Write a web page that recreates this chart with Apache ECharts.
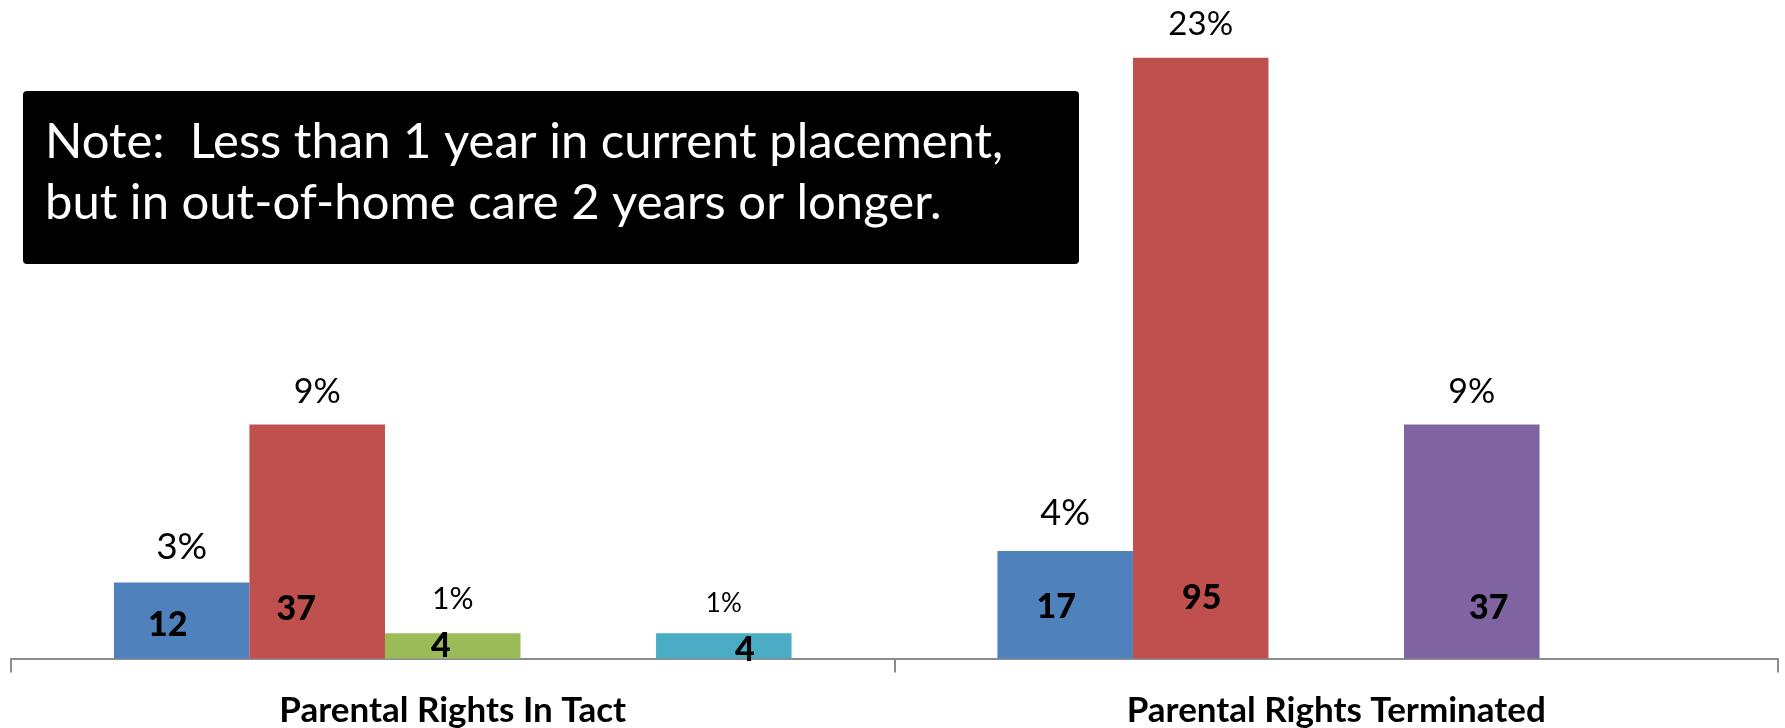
<!DOCTYPE html>
<html>
<head>
<meta charset="utf-8">
<script src="https://cdn.jsdelivr.net/npm/echarts@6/dist/echarts.min.js"></script>
<style>
  html, body { margin: 0; padding: 0; background: #fff; }
  #chart { width: 1785px; height: 728px; }
</style>
</head>
<body>
<div id="chart"></div>
<script>
// ---- Data ----
const categories = ['Parental Rights In Tact', 'Parental Rights Terminated'];
const seriesNames = ['Series 1', 'Series 2', 'Series 3', 'Series 4', 'Series 5'];
const counts1 = [12, 17];
const counts2 = [37, 95];
const counts3 = [4, null];
const counts4 = [null, 37];
const counts5 = [4, null];
const pct1 = ['3%', '4%'];
const pct2 = ['9%', '23%'];
const pct3 = ['1%', null];
const pct4 = [null, '9%'];
const pct5 = ['1%', null];
const noteLines = ['Note:  Less than 1 year in current placement,', 'but in out-of-home care 2 years or longer.'];

// ---- Styling ----
const colors = ['#4F81BD', '#C0504D', '#9BBB59', '#8064A2', '#4BACC6'];
const allCounts = [counts1, counts2, counts3, counts4, counts5];
const allPct = [pct1, pct2, pct3, pct4, pct5];
const pctFont = [[37, 36], [34, 33], [30, 0], [0, 34], [26, 0]];
const pctDy = [[-36, -38], [-32, -33], [-34, 0], [0, -32], [-30, 0]];
const countShift = [[[-14, -33], [-9, -51]], [[-21, -49], [1, -60]], [[-12, -12], null], [null, [17, -50]], [[21, -8], null]];
const FONT = 'Lato, "Open Sans", sans-serif';

const series = [];
allCounts.forEach((vals, s) => {
  series.push({
    name: seriesNames[s],
    type: 'bar',
    xAxisIndex: 0,
    barGap: '0%',
    barCategoryGap: '23.3%',
    itemStyle: { color: colors[s] },
    silent: true,
    data: vals.map((v, i) => ({
      value: v,
      label: {
        show: v != null,
        position: ['50%', 0],
        offset: [0, pctDy[s][i]],
        align: 'center',
        verticalAlign: 'middle',
        formatter: allPct[s][i] || '',
        fontFamily: FONT,
        fontSize: pctFont[s][i] || 30,
        color: '#000'
      }
    }))
  });
});
allCounts.forEach((vals, s) => {
  series.push({
    name: seriesNames[s] + ' count',
    type: 'bar',
    xAxisIndex: 1,
    barGap: '0%',
    barCategoryGap: '23.3%',
    itemStyle: { color: 'rgba(0,0,0,0)' },
    silent: true,
    z: 5,
    data: vals.map((v, i) => ({
      value: v,
      label: {
        show: v != null,
        position: ['50%', '100%'],
        offset: countShift[s][i] || [0, 0],
        align: 'center',
        verticalAlign: 'middle',
        formatter: '{c}',
        fontFamily: FONT,
        fontWeight: 900,
        fontSize: 34,
        color: '#000'
      }
    }))
  });
});

const chart = echarts.init(document.getElementById('chart'), null, { renderer: 'canvas' });
chart.setOption({
  backgroundColor: '#fff',
  animation: false,
  grid: { left: 11, right: 7, top: 26, bottom: 68, containLabel: false },
  xAxis: [
    {
      type: 'category',
      data: categories,
      boundaryGap: true,
      axisLine: { show: true, lineStyle: { color: '#8c8c8c', width: 2 } },
      axisTick: { show: true, length: 14, lineStyle: { color: '#8c8c8c', width: 2 } },
      axisLabel: { margin: 52, fontFamily: FONT, fontWeight: 'bold', fontSize: 35, color: '#000', verticalAlign: 'middle', lineHeight: 35 }
    },
    { type: 'category', data: categories, show: false }
  ],
  yAxis: { type: 'value', min: 0, max: 100, show: false, splitLine: { show: false } },
  series: series,
  graphic: [
    {
      type: 'rect',
      shape: { x: 23, y: 91, width: 1056, height: 173, r: 4 },
      style: { fill: '#000' },
      z: 10
    },
    {
      type: 'text',
      x: 45, y: 142,
      style: {
        text: noteLines[0],
        fill: '#fff',
        font: '49px ' + FONT,
        textVerticalAlign: 'middle',
        verticalAlign: 'middle'
      },
      z: 11
    },
    {
      type: 'text',
      x: 45, y: 203,
      style: {
        text: noteLines[1],
        fill: '#fff',
        font: '49px ' + FONT,
        textVerticalAlign: 'middle',
        verticalAlign: 'middle'
      },
      z: 11
    }
  ]
});
</script>
</body>
</html>
